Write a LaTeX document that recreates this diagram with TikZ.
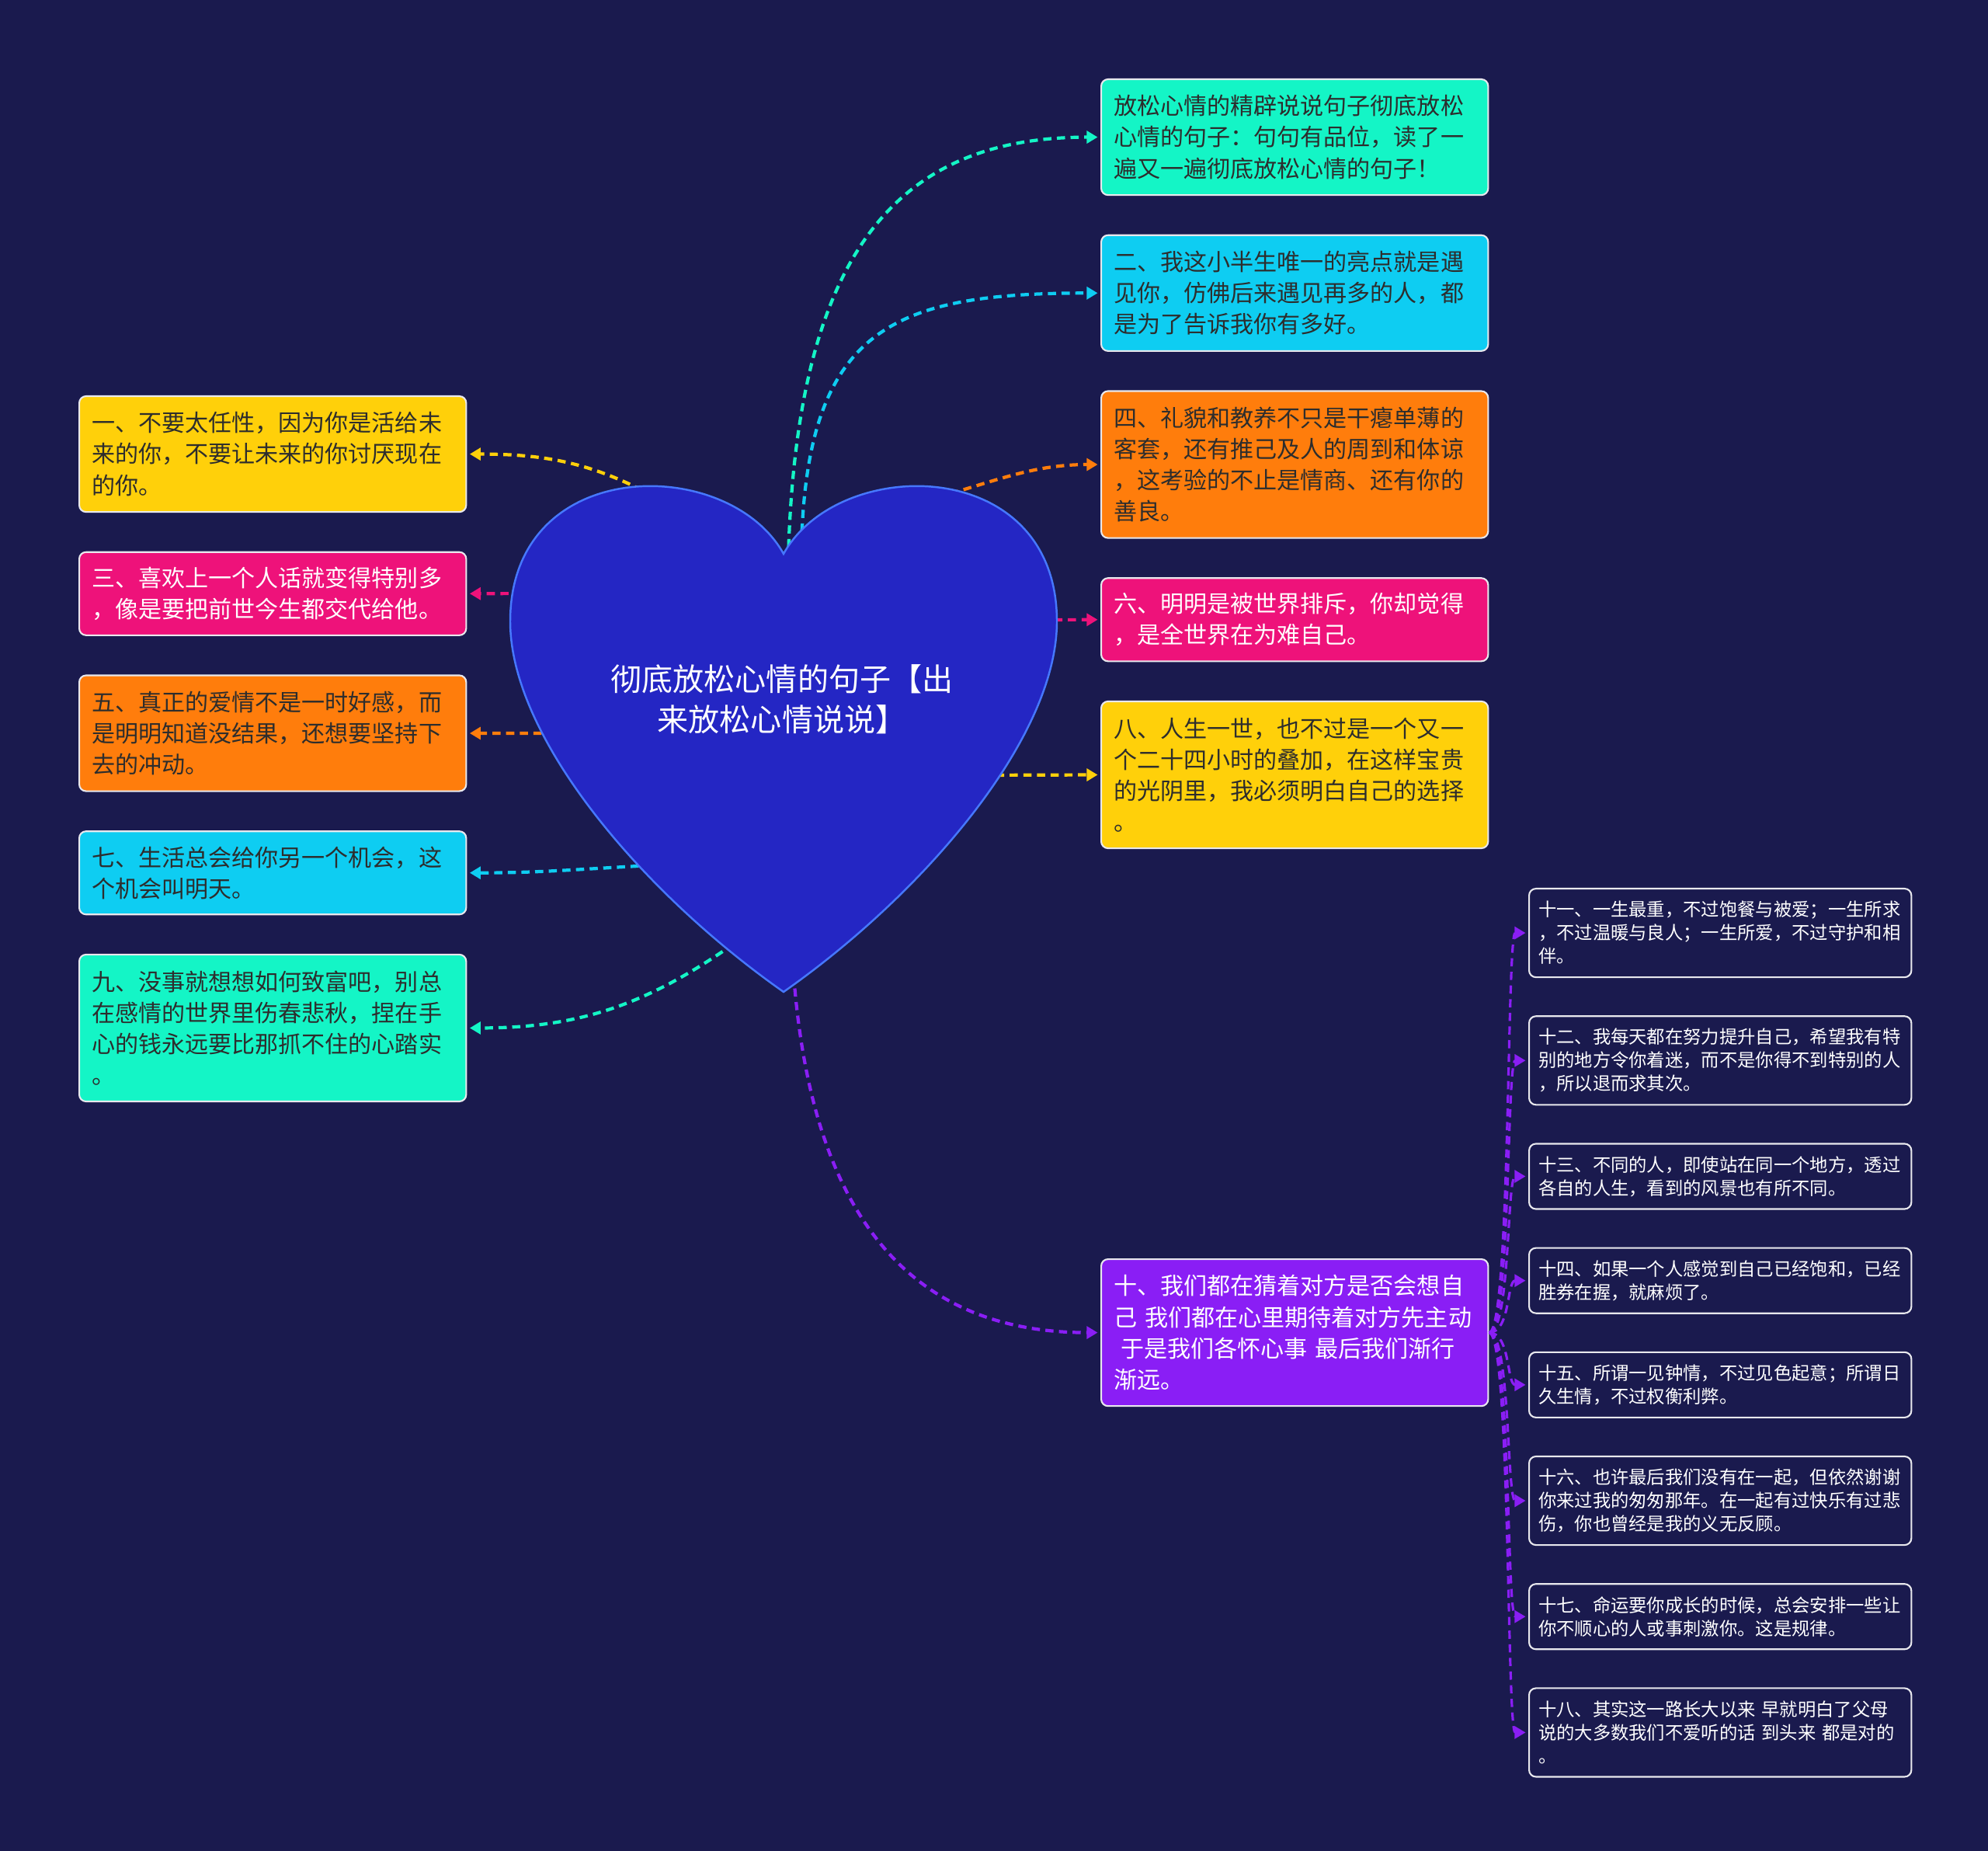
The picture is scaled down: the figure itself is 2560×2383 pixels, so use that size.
\documentclass[tikz,border=0pt]{standalone}
\usepackage{fontspec}
\usepackage{tikz}
\usetikzlibrary{positioning,arrows.meta}
\usepackage{xcolor}
\newfontfamily\cjkfont{Noto Sans CJK SC}
\definecolor{bgnavy}{RGB}{26,26,78}
\definecolor{heartblue}{RGB}{36,38,196}
\definecolor{heartline}{RGB}{70,120,255}
\definecolor{leafteal}{RGB}{20,245,198}
\definecolor{leafcyan}{RGB}{14,205,242}
\definecolor{leaforange}{RGB}{255,125,12}
\definecolor{leafpink}{RGB}{238,18,122}
\definecolor{leafyellow}{RGB}{255,208,10}
\definecolor{leafpurple}{RGB}{138,30,245}
\definecolor{darktext}{RGB}{45,45,45}

\begin{document}
\begin{tikzpicture}[x=0.01cm, y=-0.01cm, >={Triangle[length=4pt,width=4.5pt]},
    leaf/.style={draw=white!90!bgnavy, line width=0.6pt, rounded corners=2.5pt,
        text width=4.66cm, inner xsep=0.16cm, inner ysep=0.08cm, align=left,
        text=darktext, font=\cjkfont\fontsize{8.55pt}{11.4pt}\selectfont},
    sub/.style={leaf, fill=bgnavy, text=white, text width=4.68cm, inner xsep=0.12cm,
        font=\cjkfont\fontsize{6.63pt}{8.54pt}\selectfont},
    rows2/.style={minimum height=1.07cm},
    rows3/.style={minimum height=1.49cm},
    rows4/.style={minimum height=1.89cm},
    subrows2/.style={minimum height=0.84cm},
    subrows3/.style={minimum height=1.14cm},
    link/.style={->, line width=1.2pt, dash pattern=on 3pt off 2pt, shorten >=1pt},
    sublink/.style={link, leafpurple, line width=0.9pt}]

    % background
    \fill[bgnavy] (0,0) rectangle (2560,2383);

    % right column
    \node[leaf, rows3, fill=leafteal, anchor=north west] (intro) at (1417,101) {放松心情的精辟说说句子彻底放松\\心情的句子：句句有品位，读了一\\遍又一遍彻底放松心情的句子！};
    \node[leaf, rows3, fill=leafcyan, below=0.495cm of intro] (s2) {二、我这小半生唯一的亮点就是遇\\见你，仿佛后来遇见再多的人，都\\是为了告诉我你有多好。};
    \node[leaf, rows4, fill=leaforange, below=0.495cm of s2] (s4) {四、礼貌和教养不只是干瘪单薄的\\客套，还有推己及人的周到和体谅\\，这考验的不止是情商、还有你的\\善良。};
    \node[leaf, rows2, fill=leafpink, text=white, below=0.495cm of s4] (s6) {六、明明是被世界排斥，你却觉得\\，是全世界在为难自己。};
    \node[leaf, rows4, fill=leafyellow, below=0.495cm of s6] (s8) {八、人生一世，也不过是一个又一\\个二十四小时的叠加，在这样宝贵\\的光阴里，我必须明白自己的选择\\。};
    \node[leaf, rows4, fill=leafpurple, text=white, anchor=north west] (s10) at (1417,1620) {十、我们都在猜着对方是否会想自\\己~我们都在心里期待着对方先主动\\\hspace*{0.3em}于是我们各怀心事~最后我们渐行\\渐远。};

    % left column
    \node[leaf, rows3, fill=leafyellow, anchor=north west] (s1) at (101,509) {一、不要太任性，因为你是活给未\\来的你，不要让未来的你讨厌现在\\的你。};
    \node[leaf, rows2, fill=leafpink, text=white, below=0.495cm of s1] (s3) {三、喜欢上一个人话就变得特别多\\，像是要把前世今生都交代给他。};
    \node[leaf, rows3, fill=leaforange, below=0.495cm of s3] (s5) {五、真正的爱情不是一时好感，而\\是明明知道没结果，还想要坚持下\\去的冲动。};
    \node[leaf, rows2, fill=leafcyan, below=0.495cm of s5] (s7) {七、生活总会给你另一个机会，这\\个机会叫明天。};
    \node[leaf, rows4, fill=leafteal, below=0.495cm of s7] (s9) {九、没事就想想如何致富吧，别总\\在感情的世界里伤春悲秋，捏在手\\心的钱永远要比那抓不住的心踏实\\。};

    % children of s10
    \node[sub, subrows3, anchor=north west] (s11) at (1968,1143) {十一、一生最重，不过饱餐与被爱；一生所求\\，不过温暖与良人；一生所爱，不过守护和相\\伴。};
    \node[sub, subrows3, below=0.48cm of s11] (s12) {十二、我每天都在努力提升自己，希望我有特\\别的地方令你着迷，而不是你得不到特别的人\\，所以退而求其次。};
    \node[sub, subrows2, below=0.48cm of s12] (s13) {十三、不同的人，即使站在同一个地方，透过\\各自的人生，看到的风景也有所不同。};
    \node[sub, subrows2, below=0.48cm of s13] (s14) {十四、如果一个人感觉到自己已经饱和，已经\\胜券在握，就麻烦了。};
    \node[sub, subrows2, below=0.48cm of s14] (s15) {十五、所谓一见钟情，不过见色起意；所谓日\\久生情，不过权衡利弊。};
    \node[sub, subrows3, below=0.48cm of s15] (s16) {十六、也许最后我们没有在一起，但依然谢谢\\你来过我的匆匆那年。在一起有过快乐有过悲\\伤，你也曾经是我的义无反顾。};
    \node[sub, subrows2, below=0.48cm of s16] (s17) {十七、命运要你成长的时候，总会安排一些让\\你不顺心的人或事刺激你。这是规律。};
    \node[sub, subrows3, below=0.48cm of s17] (s18) {十八、其实这一路长大以来~早就明白了父母\\说的大多数我们不爱听的话~到头来~都是对的\\。};

    % points on the heart
    \coordinate (hr0) at (1015,722);
    \coordinate (hr2) at (1032,702);
    \coordinate (hr4) at (1190,645);
    \coordinate (hr6) at (1340,798);
    \coordinate (hr8) at (1265,998);
    \coordinate (hr10) at (1022,1255);
    \coordinate (hl1) at (858,648);
    \coordinate (hl3) at (690,764);
    \coordinate (hl5) at (715,944);
    \coordinate (hl7) at (840,1114);
    \coordinate (hl9) at (945,1215);

    \draw[link, leafteal] (hr0) .. controls +(10,-400) and +(-260,0) .. (intro.west);
    \draw[link, leafcyan] (hr2) .. controls +(8,-280) and +(-267,0) .. (s2.west);
    \draw[link, leaforange] (hr4) to[out=15, in=180] (s4.west);
    \draw[link, leafpink] (hr6) -- (s6.west);
    \draw[link, leafyellow] (hr8) -- (s8.west);
    \draw[link, leafpurple] (hr10) .. controls +(25,330) and +(-230,0) .. (s10.west);
    \draw[link, leafyellow] (hl1) to[out=150, in=0] (s1.east);
    \draw[link, leafpink] (hl3) -- (s3.east);
    \draw[link, leaforange] (hl5) -- (s5.east);
    \draw[link, leafcyan] (hl7) to[out=183, in=0] (s7.east);
    \draw[link, leafteal] (hl9) to[out=215, in=0] (s9.east);

    \draw[sublink] (s10.east) .. controls +(28,0) and +(-28,0) .. (s11.west);
    \draw[sublink] (s10.east) .. controls +(28,0) and +(-28,0) .. (s12.west);
    \draw[sublink] (s10.east) .. controls +(28,0) and +(-28,0) .. (s13.west);
    \draw[sublink] (s10.east) .. controls +(28,0) and +(-28,0) .. (s14.west);
    \draw[sublink] (s10.east) .. controls +(28,0) and +(-28,0) .. (s15.west);
    \draw[sublink] (s10.east) .. controls +(28,0) and +(-28,0) .. (s16.west);
    \draw[sublink] (s10.east) .. controls +(28,0) and +(-28,0) .. (s17.west);
    \draw[sublink] (s10.east) .. controls +(28,0) and +(-28,0) .. (s18.west);

    % heart
    \filldraw[fill=heartblue, draw=heartline, line width=0.7pt]
        (1009,713) .. controls (1080,585) and (1361,585) .. (1361,800)
        .. controls (1361,950) and (1190,1150) .. (1009,1277)
        .. controls (828,1150) and (657,950) .. (657,800)
        .. controls (657,585) and (938,585) .. (1009,713) -- cycle;
    \node[text=white, align=center, font=\cjkfont\fontsize{11.4pt}{14.8pt}\selectfont] (title) at (1007,900) {彻底放松心情的句子【出\\来放松心情说说】};
\end{tikzpicture}
\end{document}
